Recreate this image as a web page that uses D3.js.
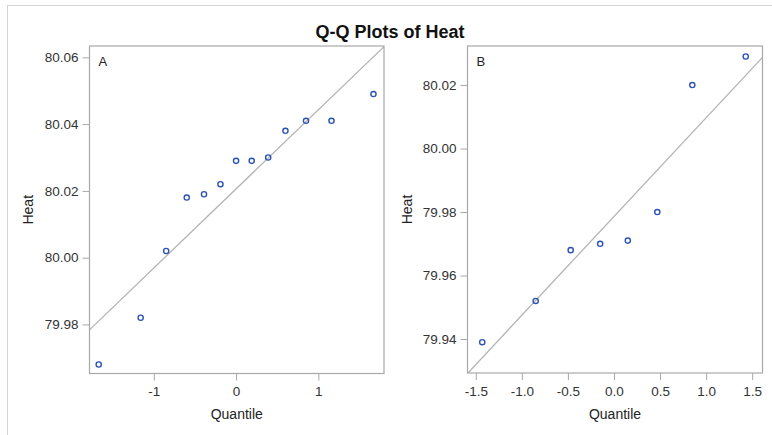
<!DOCTYPE html>
<html><head><meta charset="utf-8">
<script src="https://cdn.jsdelivr.net/npm/d3@7"></script>
<style>
html,body{margin:0;padding:0;background:#fff;}
svg text{font-family:"Liberation Sans",Arial,Helvetica,sans-serif;}
</style></head>
<body>
<svg id="chart" width="772" height="435"></svg>
<script>
// ---- data ----
const titleText = "Q-Q Plots of Heat";
const quantA = [-1.67, -1.16, -0.85, -0.60, -0.39, -0.19, 0.00, 0.19, 0.39, 0.60, 0.85, 1.16, 1.67];
const heatA  = [79.968, 79.982, 80.002, 80.018, 80.019, 80.022, 80.029, 80.029, 80.030, 80.038, 80.041, 80.041, 80.049];
const refA   = [80.0206, 0.0237];   // mean, std dev of reference line
const quantB = [-1.43, -0.85, -0.47, -0.15, 0.15, 0.47, 0.85, 1.43];
const heatB  = [79.939, 79.952, 79.968, 79.970, 79.971, 79.980, 80.020, 80.029];
const refB   = [79.9786, 0.0311];
const xTicksA = [-1, 0, 1];
const yTicksA = [79.98, 80.00, 80.02, 80.04, 80.06];
const xTicksB = [-1.5, -1.0, -0.5, 0.0, 0.5, 1.0, 1.5];
const yTicksB = [79.94, 79.96, 79.98, 80.00, 80.02];

const svg = d3.select("#chart");
const frameCol = "#a8a8a8", textCol = "#333";
const hy = f => (d => f(d).replace("\u2212","-"));

// outer border
svg.append("rect").attr("x",7.5).attr("y",5.5).attr("width",780).attr("height",440)
  .attr("fill","none").attr("stroke","#d4d4d4");

svg.append("text").attr("x",390).attr("y",37.5).attr("text-anchor","middle")
  .attr("font-size",18).attr("font-weight","bold").attr("fill","#111").text(titleText);

function panel(cfg){
  const g = svg.append("g");
  const x = d3.scaleLinear().domain(cfg.xdom).range([cfg.x0, cfg.x1]);
  const y = d3.scaleLinear().domain(cfg.ydom).range([cfg.y1, cfg.y0]);
  const clipId = "clip"+cfg.label;
  svg.append("clipPath").attr("id",clipId).append("rect")
    .attr("x",cfg.x0).attr("y",cfg.y0).attr("width",cfg.x1-cfg.x0).attr("height",cfg.y1-cfg.y0);

  // axes
  const yAxis = d3.axisLeft(y).tickValues(cfg.yticks).tickSize(7).tickPadding(4).tickFormat(hy(d3.format(".2f")));
  const gy = g.append("g").attr("transform",`translate(${cfg.x0},0)`).call(yAxis);
  const xAxis = d3.axisBottom(x).tickValues(cfg.xticks).tickSize(7).tickPadding(6).tickFormat(hy(cfg.xfmt));
  const gx = g.append("g").attr("transform",`translate(0,${cfg.y1})`).call(xAxis);
  [gx,gy].forEach(a=>{
    a.select(".domain").remove();
    a.selectAll(".tick line").attr("stroke",frameCol);
    a.selectAll(".tick text").attr("fill",textCol).attr("font-size",13.5)
      .attr("font-family","'Liberation Sans',Arial,sans-serif");
  });

  // reference line
  g.append("line").attr("clip-path",`url(#${clipId})`)
    .attr("x1",x(cfg.xdom[0])).attr("y1",y(cfg.ref[0]+cfg.ref[1]*cfg.xdom[0]))
    .attr("x2",x(cfg.xdom[1])).attr("y2",y(cfg.ref[0]+cfg.ref[1]*cfg.xdom[1]))
    .attr("stroke","#b4b4b4").attr("stroke-width",1.3);

  // points
  g.selectAll("circle.pt").data(cfg.q.map((q,i)=>[q,cfg.v[i]])).join("circle")
    .attr("class","pt").attr("cx",d=>x(d[0])).attr("cy",d=>y(d[1])).attr("r",2.6)
    .attr("fill","none").attr("stroke","#2b52b8").attr("stroke-width",1.4);

  // frame
  g.append("rect").attr("x",cfg.x0).attr("y",cfg.y0).attr("width",cfg.x1-cfg.x0).attr("height",cfg.y1-cfg.y0)
    .attr("fill","none").attr("stroke",frameCol).attr("stroke-width",1.2);

  g.append("text").attr("x",cfg.x0+9).attr("y",cfg.y0+20).attr("font-size",13).attr("fill","#222").text(cfg.label);

  g.append("text").attr("x",(cfg.x0+cfg.x1)/2).attr("y",419).attr("text-anchor","middle")
    .attr("font-size",14).attr("fill","#222").text("Quantile");
  g.append("text").attr("transform",`translate(${cfg.ylabX},${(cfg.y0+cfg.y1)/2}) rotate(-90)`)
    .attr("text-anchor","middle").attr("font-size",14).attr("fill","#222").text("Heat");
}

panel({label:"A", x0:89.5, x1:384, y0:46, y1:373.5,
  xdom:[-1.782,1.798], ydom:[79.9653,80.0634], xticks:xTicksA, yticks:yTicksA,
  xfmt:d3.format("d"), q:quantA, v:heatA, ref:refA, ylabX:33});
panel({label:"B", x0:467.5, x1:762.5, y0:46, y1:373,
  xdom:[-1.59,1.612], ydom:[79.9293,80.0323], xticks:xTicksB, yticks:yTicksB,
  xfmt:d3.format(".1f"), q:quantB, v:heatB, ref:refB, ylabX:412});
</script>
</body></html>
